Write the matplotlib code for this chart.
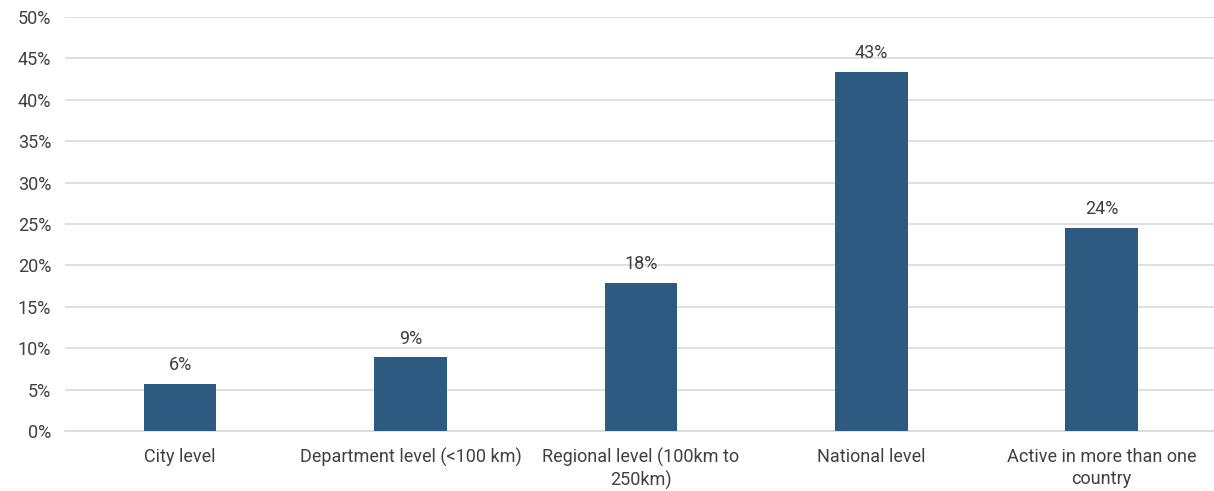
import matplotlib
matplotlib.use('Agg')
import matplotlib.pyplot as plt
import numpy as np

# values
categories = ['City level', 'Department level (<100 km)', 'Regional level (100km to\n250km)',
              'National level', 'Active in more than one\ncountry']
shares = [5.7, 8.9, 17.9, 43.4, 24.5]
value_labels = ['6%', '9%', '18%', '43%', '24%']
yticks = [0, 5, 10, 15, 20, 25, 30, 35, 40, 45, 50]

plt.rcParams['font.family'] = ['Roboto', 'DejaVu Sans']
text_color = '#404040'

fig = plt.figure(figsize=(12.14, 4.91), dpi=100)
ax = fig.add_axes([65 / 1214, 60 / 491, 1149 / 1214, 414 / 491])

x = np.arange(len(categories))
bars = ax.bar(x, shares, width=0.315, color='#2C5A80', zorder=3)

# value labels above bars
for rect, lab in zip(bars, value_labels):
    ax.annotate(lab, (rect.get_x() + rect.get_width() / 2, rect.get_height()),
                xytext=(0, 7), textcoords='offset points', ha='center', va='bottom',
                fontsize=13, color=text_color)

ax.set_ylim(0, 50)
ax.set_xlim(-0.5, 4.488)
ax.set_yticks(yticks)
ax.set_yticklabels([f'{t}%' for t in yticks])
ax.set_xticks(x)
ax.set_xticklabels(categories, linespacing=1.3)
ax.tick_params(axis='both', length=0, labelsize=13, labelcolor=text_color)
ax.tick_params(axis='x', pad=12)
ax.tick_params(axis='y', pad=10)
ax.yaxis.grid(True, color='#D9D9D9', linewidth=1.2, zorder=0)
for s in ['top', 'right', 'left']:
    ax.spines[s].set_visible(False)
ax.spines['bottom'].set_color('#D9D9D9')
ax.spines['bottom'].set_linewidth(1.2)

fig.savefig('out.png', dpi=100)
